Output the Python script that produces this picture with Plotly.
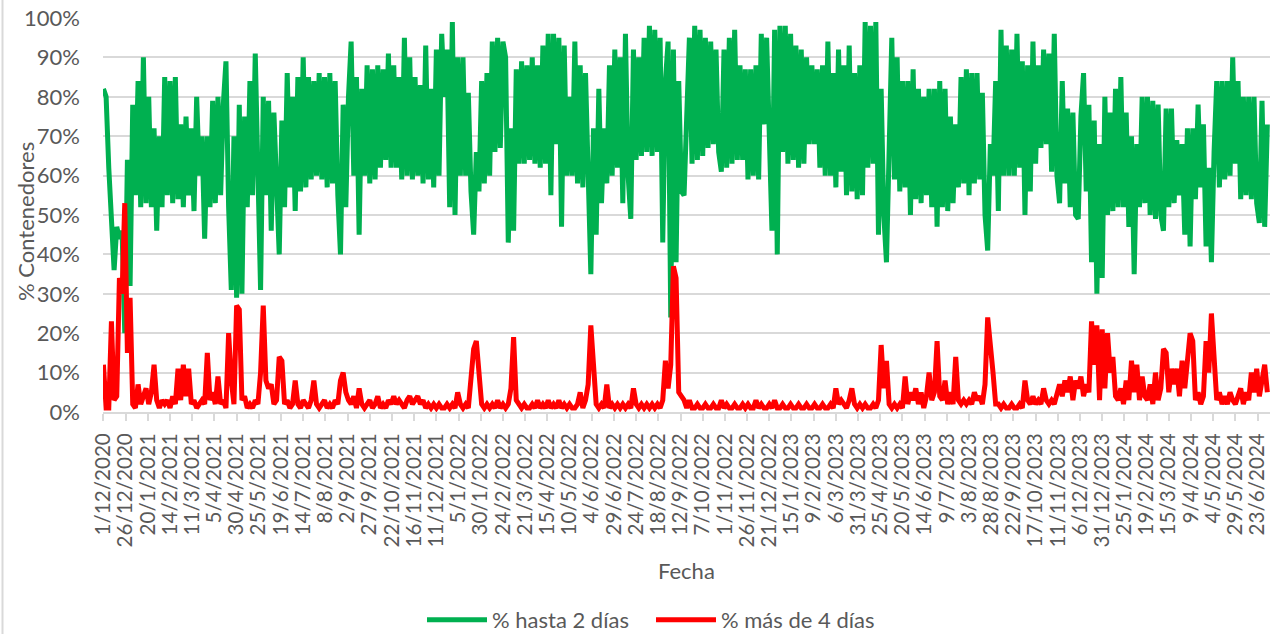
import pandas as pd
import plotly.graph_objects as go

START = "2020-12-01"
STEP_DAYS = 3

# % hasta 2 días (one reading every 3 days, starting 1/12/2020)
hasta_2 = [
    82, 80, 62, 50, 36, 47, 44, 46, 20, 64, 32, 78, 55, 84, 52, 90, 53, 80, 52, 72, 46, 70, 52, 85,
    55, 84, 53, 85, 54, 73, 52, 75, 55, 72, 51, 80, 60, 70, 44, 70, 52, 79, 53, 80, 55, 78, 89, 52,
    31, 70, 29, 78, 30, 75, 52, 84, 55, 91, 60, 31, 80, 55, 79, 46, 76, 57, 40, 74, 52, 86, 57, 80,
    51, 85, 56, 90, 57, 85, 59, 84, 60, 86, 59, 85, 57, 86, 58, 84, 55, 40, 78, 52, 80, 94, 60, 85,
    45, 82, 60, 88, 58, 87, 59, 88, 62, 87, 64, 91, 62, 88, 62, 85, 59, 95, 60, 90, 59, 85, 60, 83,
    58, 93, 59, 82, 57, 92, 60, 96, 80, 92, 52, 99, 50, 90, 60, 90, 60, 81, 56, 45, 66, 56, 84, 58,
    86, 60, 94, 66, 95, 67, 94, 90, 43, 72, 46, 87, 63, 89, 63, 88, 64, 90, 63, 88, 62, 93, 63, 96,
    55, 96, 68, 95, 47, 93, 60, 80, 60, 94, 58, 88, 57, 86, 56, 35, 72, 45, 82, 53, 72, 58, 88, 60,
    92, 62, 90, 53, 96, 60, 49, 92, 64, 90, 65, 95, 66, 98, 65, 97, 66, 95, 43, 84, 94, 24, 92, 38,
    84, 56, 55, 78, 95, 63, 98, 64, 97, 65, 95, 67, 94, 68, 92, 66, 61, 92, 62, 95, 63, 97, 64, 88,
    64, 87, 59, 87, 60, 88, 59, 96, 73, 95, 70, 46, 97, 40, 98, 66, 98, 63, 96, 64, 93, 62, 92, 63,
    90, 68, 88, 68, 87, 62, 88, 60, 94, 60, 86, 57, 92, 61, 88, 55, 93, 56, 86, 54, 88, 55, 99, 62,
    98, 63, 99, 45, 82, 50, 38, 72, 95, 59, 90, 56, 84, 57, 84, 50, 87, 54, 82, 53, 80, 55, 82, 52,
    82, 47, 84, 52, 82, 51, 75, 53, 73, 57, 85, 58, 87, 55, 86, 58, 86, 59, 81, 50, 41, 68, 60, 84,
    51, 97, 60, 93, 60, 92, 60, 96, 62, 89, 50, 88, 56, 94, 63, 88, 67, 92, 68, 91, 61, 96, 60, 53,
    84, 58, 77, 52, 76, 50, 49, 75, 86, 56, 78, 38, 74, 30, 68, 34, 80, 50, 76, 51, 82, 52, 85, 52,
    76, 47, 70, 35, 68, 52, 80, 53, 80, 50, 79, 49, 78, 50, 46, 77, 52, 77, 53, 69, 55, 68, 45, 72,
    42, 72, 54, 78, 57, 73, 42, 62, 38, 66, 84, 57, 84, 59, 84, 60, 90, 63, 84, 54, 80, 55, 80, 54,
    80, 53, 48, 79, 47, 73,
]

# % más de 4 días
mas_4 = [
    12, 1, 1, 23, 3, 4, 34, 30, 53, 15, 29, 2, 1, 7, 2, 4, 6, 2, 5, 12, 3, 1, 3, 2,
    3, 1, 4, 2, 11, 3, 12, 4, 11, 2, 3, 1, 2, 3, 2, 15, 3, 5, 2, 9, 2, 3, 1, 20,
    8, 2, 27, 26, 3, 4, 1, 2, 1, 3, 2, 10, 27, 8, 6, 7, 2, 3, 14, 13, 2, 3, 1, 2,
    8, 2, 1, 3, 2, 1, 3, 8, 2, 1, 2, 3, 1, 2, 1, 3, 2, 8, 10, 5, 3, 2, 4, 1,
    6, 2, 1, 2, 3, 1, 2, 4, 1, 2, 1, 3, 2, 4, 2, 3, 2, 1, 3, 4, 2, 3, 4, 2,
    3, 1, 2, 1, 2, 1, 2, 1, 1, 2, 1, 2, 1, 5, 2, 1, 2, 1, 8, 16, 18, 9, 2, 1,
    2, 1, 2, 1, 3, 1, 2, 1, 2, 6, 19, 3, 2, 1, 2, 1, 1, 2, 1, 3, 1, 2, 1, 3,
    1, 2, 1, 3, 1, 2, 1, 2, 1, 1, 2, 5, 1, 3, 7, 22, 12, 2, 1, 2, 1, 7, 1, 2,
    1, 2, 1, 2, 1, 2, 1, 6, 2, 1, 2, 1, 2, 1, 2, 1, 2, 1, 3, 13, 6, 12, 37, 34,
    5, 4, 3, 1, 3, 1, 1, 2, 1, 1, 2, 1, 1, 2, 1, 1, 3, 1, 2, 1, 1, 2, 1, 1,
    2, 1, 2, 1, 1, 3, 1, 2, 1, 1, 2, 1, 3, 1, 1, 2, 1, 1, 2, 1, 1, 2, 1, 1,
    2, 1, 1, 2, 1, 1, 2, 1, 1, 2, 1, 6, 2, 3, 2, 1, 3, 6, 2, 1, 2, 1, 2, 1,
    1, 2, 1, 3, 17, 6, 13, 2, 1, 2, 1, 2, 1, 9, 2, 5, 3, 6, 2, 5, 1, 4, 10, 3,
    5, 18, 4, 3, 8, 2, 5, 2, 14, 3, 2, 3, 2, 3, 2, 5, 3, 4, 2, 7, 24, 15, 10, 2,
    2, 1, 2, 1, 1, 2, 1, 1, 2, 1, 8, 3, 2, 4, 2, 3, 2, 6, 3, 2, 3, 2, 5, 7,
    4, 8, 5, 9, 3, 8, 6, 9, 4, 7, 5, 23, 12, 22, 3, 21, 6, 20, 10, 14, 4, 3, 6, 2,
    8, 3, 13, 5, 12, 3, 9, 4, 3, 7, 2, 10, 3, 6, 16, 15, 5, 11, 7, 11, 4, 13, 6, 12,
    20, 18, 3, 5, 2, 4, 18, 10, 25, 14, 3, 5, 2, 4, 2, 5, 3, 2, 4, 6, 2, 5, 3, 10,
    5, 11, 4, 8, 12, 5,
]

tick_labels = [
    "1/12/2020", "26/12/2020", "20/1/2021", "14/2/2021", "11/3/2021", "5/4/2021",
    "30/4/2021", "25/5/2021", "19/6/2021", "14/7/2021", "8/8/2021", "2/9/2021",
    "27/9/2021", "22/10/2021", "16/11/2021", "11/12/2021", "5/1/2022", "30/1/2022",
    "24/2/2022", "21/3/2022", "15/4/2022", "10/5/2022", "4/6/2022", "29/6/2022",
    "24/7/2022", "18/8/2022", "12/9/2022", "7/10/2022", "1/11/2022", "26/11/2022",
    "21/12/2022", "15/1/2023", "9/2/2023", "6/3/2023", "31/3/2023", "25/4/2023",
    "20/5/2023", "14/6/2023", "9/7/2023", "3/8/2023", "28/8/2023", "22/9/2023",
    "17/10/2023", "11/11/2023", "6/12/2023", "31/12/2023", "25/1/2024", "19/2/2024",
    "15/3/2024", "9/4/2024", "4/5/2024", "29/5/2024", "23/6/2024",
]

n = min(len(hasta_2), len(mas_4))
dates = pd.date_range(START, periods=n, freq=f"{STEP_DAYS}D")
tick_vals = pd.to_datetime(tick_labels, format="%d/%m/%Y")

GREEN = "#00B050"
RED = "#FF0000"
GRID = "#D9D9D9"
TXT = "#595959"
FONT = "Lato, Liberation Sans, Arial, sans-serif"

W, H = 1280, 634
L, R, T, B = 103, 10, 18, 222
PW = W - L - R
PH = H - T - B


def px_x(p):
    return (p - L) / PW


def px_y(p):
    return (T + PH - p) / PH


fig = go.Figure()
fig.add_trace(go.Scatter(x=dates, y=hasta_2[:n], mode="lines", name="% hasta 2 días",
                         line=dict(color=GREEN, width=5), legend="legend"))
fig.add_trace(go.Scatter(x=dates, y=mas_4[:n], mode="lines", name="% más de 4 días",
                         line=dict(color=RED, width=5), legend="legend2"))

leg_common = dict(orientation="h", xref="container", yref="container",
                  xanchor="left", yanchor="middle", y=(H - 620) / H,
                  font=dict(size=22, color=TXT), itemwidth=60, bgcolor="rgba(0,0,0,0)")

start = pd.Timestamp(START)
fig.update_layout(
    width=W, height=H,
    margin=dict(l=L, r=R, t=T, b=B),
    paper_bgcolor="white", plot_bgcolor="white",
    font=dict(family=FONT, size=22, color=TXT),
    showlegend=True,
    legend=dict(x=422 / W, **leg_common),
    legend2=dict(x=651 / W, **leg_common),
    xaxis=dict(
        automargin=False,
        range=[start - pd.Timedelta(days=0.5), start + pd.Timedelta(days=1314)],
        tickmode="array", tickvals=tick_vals, ticktext=tick_labels, tickangle=-90,
        ticks="outside", ticklen=7, tickcolor=GRID, tickwidth=1.5, ticklabelstandoff=4,
        showgrid=False, showline=True, linecolor=GRID, linewidth=2,
        tickfont=dict(size=20.6, color=TXT),
    ),
    yaxis=dict(
        automargin=False,
        range=[0, 100], dtick=10, ticksuffix="%",
        showgrid=True, gridcolor=GRID, gridwidth=2, zeroline=False,
        showline=False, tickfont=dict(size=22, color=TXT), ticklabelstandoff=22,
    ),
    annotations=[
        dict(text="% Contenedores", xref="paper", yref="paper", x=px_x(25), y=px_y(222),
             xanchor="center", yanchor="middle", textangle=-90, showarrow=False,
             font=dict(size=22, color=TXT)),
        dict(text="Fecha", xref="paper", yref="paper", x=px_x(686), y=px_y(570),
             xanchor="center", yanchor="middle", showarrow=False,
             font=dict(size=22, color=TXT)),
    ],
)

fig.add_shape(type="line", xref="paper", yref="paper",
              x0=px_x(2.5), x1=px_x(2.5), y0=px_y(634), y1=px_y(0),
              line=dict(color=GRID, width=2))

fig.write_html("out.html", config={"displayModeBar": False},
               post_script="document.body.style.margin='0';document.body.style.overflow='hidden';")
